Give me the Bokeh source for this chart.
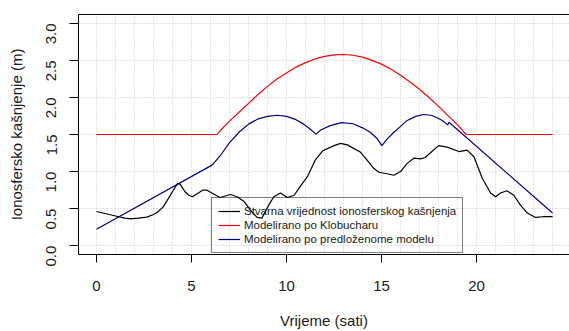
from bokeh.plotting import figure
from bokeh.models import (Legend, LegendItem, LinearAxis, FixedTicker,
                          PrintfTickFormatter, Range1d)
from bokeh.embed import file_html
from bokeh.resources import INLINE
import math

# --- data ---
stvarna_t = [0, 0.5, 1, 1.5, 1.8, 2.2, 2.65, 3.0, 3.2, 3.5, 3.7, 4.05, 4.27, 4.4,
             4.65, 4.85, 5.05, 5.3, 5.6, 5.8, 6.0, 6.5, 7.05, 7.4, 7.75, 8.1,
             8.45, 8.7, 9.07, 9.33, 9.68, 10.04, 10.4, 10.75, 11.1, 11.5, 11.9,
             12.5, 12.84, 13.2, 13.9, 14.25, 14.6, 14.86, 15.3, 15.65, 16.0,
             16.35, 16.7, 17.05, 17.3, 17.56, 18.0, 18.45, 19.07, 19.5, 19.86,
             20.3, 20.74, 21.0, 21.26, 21.6, 21.96, 22.3, 22.67, 23.1, 23.5, 24]
stvarna_y = [0.46, 0.43, 0.40, 0.37, 0.36, 0.37, 0.385, 0.42, 0.45, 0.52, 0.60,
             0.75, 0.84, 0.83, 0.73, 0.68, 0.66, 0.70, 0.75, 0.75, 0.72, 0.65,
             0.69, 0.66, 0.60, 0.48, 0.38, 0.37, 0.55, 0.66, 0.71, 0.65, 0.68,
             0.81, 0.93, 1.15, 1.28, 1.35, 1.38, 1.36, 1.26, 1.15, 1.04, 0.99,
             0.97, 0.95, 1.00, 1.11, 1.18, 1.17, 1.19, 1.25, 1.35, 1.33, 1.27,
             1.29, 1.20, 0.91, 0.71, 0.66, 0.71, 0.74, 0.68, 0.55, 0.44, 0.38,
             0.39, 0.39]

klob_t = [0, 6.35, 6.5, 7, 7.5, 8, 8.5, 9, 9.5, 10, 10.5, 11, 11.5, 12, 12.5,
          13, 13.5, 14, 14.5, 15, 15.5, 16, 16.5, 17, 17.5, 18, 18.5, 19, 19.45, 24]
klob_y = [1.5, 1.5, 1.55, 1.68, 1.80, 1.92, 2.04, 2.15, 2.25, 2.33, 2.41, 2.47,
          2.52, 2.555, 2.575, 2.58, 2.57, 2.545, 2.50, 2.45, 2.38, 2.30, 2.21,
          2.11, 2.00, 1.88, 1.755, 1.63, 1.5, 1.5]

pred_t = [0, 6.1, 6.5, 7.0, 7.5, 8.0, 8.5, 9.0, 9.5, 10.0, 10.5, 10.9, 11.2,
          11.55, 11.8, 12.3, 12.9, 13.5, 14.0, 14.4, 14.75, 15.02, 15.3, 15.65,
          16.0, 16.35, 16.8, 17.2, 17.6, 17.9, 18.2, 18.48, 18.55, 24]
pred_y = [0.22, 1.09, 1.21, 1.39, 1.53, 1.64, 1.71, 1.745, 1.76, 1.745, 1.70,
          1.64, 1.58, 1.505, 1.56, 1.62, 1.66, 1.645, 1.59, 1.53, 1.45, 1.35,
          1.44, 1.53, 1.61, 1.69, 1.745, 1.77, 1.76, 1.73, 1.69, 1.63, 1.665, 0.44]

x_ticks = [0, 5, 10, 15, 20]
y_ticks = [0.0, 0.5, 1.0, 1.5, 2.0, 2.5, 3.0]
x_grid = list(range(0, 25))

labels = ["Stvarna vrijednost ionosferskog kašnjenja",
          "Modelirano po Klobucharu",
          "Modelirano po predloženome modelu"]
x_title = "Vrijeme (sati)"
y_title = "Ionosfersko kašnjenje (m)"

FONT = "Liberation Sans"
TXT = "#1a1a1a"

p = figure(width=569, height=331,
           x_range=Range1d(-0.947, 24.89), y_range=Range1d(-0.12, 3.12),
           output_backend="svg", toolbar_location=None,
           min_border_left=78, min_border_right=0,
           min_border_top=14, min_border_bottom=74,
           outline_line_color=None, background_fill_color="white",
           border_fill_color="white")
p.title.visible = False

# grid
p.xgrid.ticker = FixedTicker(ticks=x_grid)
p.ygrid.ticker = FixedTicker(ticks=y_ticks)
for g in (p.xgrid, p.ygrid):
    g.grid_line_color = "#c8c8c8"
    g.grid_line_dash = "1 2"
    g.grid_line_width = 1

# axes
xa = p.xaxis[0]
ya = p.yaxis[0]
xa.ticker = FixedTicker(ticks=x_ticks)
ya.ticker = FixedTicker(ticks=y_ticks)
ya.formatter = PrintfTickFormatter(format="%.1f")
ya.major_label_orientation = math.pi / 2
xa.axis_label = x_title
ya.axis_label = y_title
for ax in (xa, ya):
    ax.axis_line_color = "black"
    ax.axis_line_width = 1
    ax.major_tick_line_color = "black"
    ax.major_tick_in = 0
    ax.minor_tick_line_color = None
    ax.major_label_text_font = FONT
    ax.major_label_text_font_size = "15px"
    ax.major_label_text_color = TXT
    ax.axis_label_text_font = FONT
    ax.axis_label_text_font_size = "15px"
    ax.axis_label_text_font_style = "normal"
    ax.axis_label_text_color = TXT
xa.major_tick_out = 8
ya.major_tick_out = 9
xa.major_label_standoff = 18
ya.major_label_standoff = 18
xa.axis_label_standoff = 18
ya.axis_label_standoff = 14

top = LinearAxis(ticker=FixedTicker(ticks=[]), axis_line_color="black",
                 major_tick_out=0, major_tick_in=0, minor_tick_out=0,
                 minor_tick_in=0, major_label_standoff=0)
p.add_layout(top, "above")

# lines
r1 = p.line(stvarna_t, stvarna_y, line_color="black", line_width=1.2)
r2 = p.line(klob_t, klob_y, line_color="red", line_width=1.2)
r3 = p.line(pred_t, pred_y, line_color="darkblue", line_width=1.2)

legend = Legend(items=[LegendItem(label=labels[0], renderers=[r1]),
                       LegendItem(label=labels[1], renderers=[r2]),
                       LegendItem(label=labels[2], renderers=[r3])],
                location=(133, 1), margin=0, padding=6, spacing=0,
                glyph_width=22, glyph_height=14, label_height=14,
                label_standoff=4, label_text_font=FONT,
                label_text_font_size="11.5px", label_text_color=TXT,
                border_line_color="black", border_line_width=1,
                background_fill_alpha=0)
p.add_layout(legend)

open("out.html", "w").write(file_html(p, INLINE))
